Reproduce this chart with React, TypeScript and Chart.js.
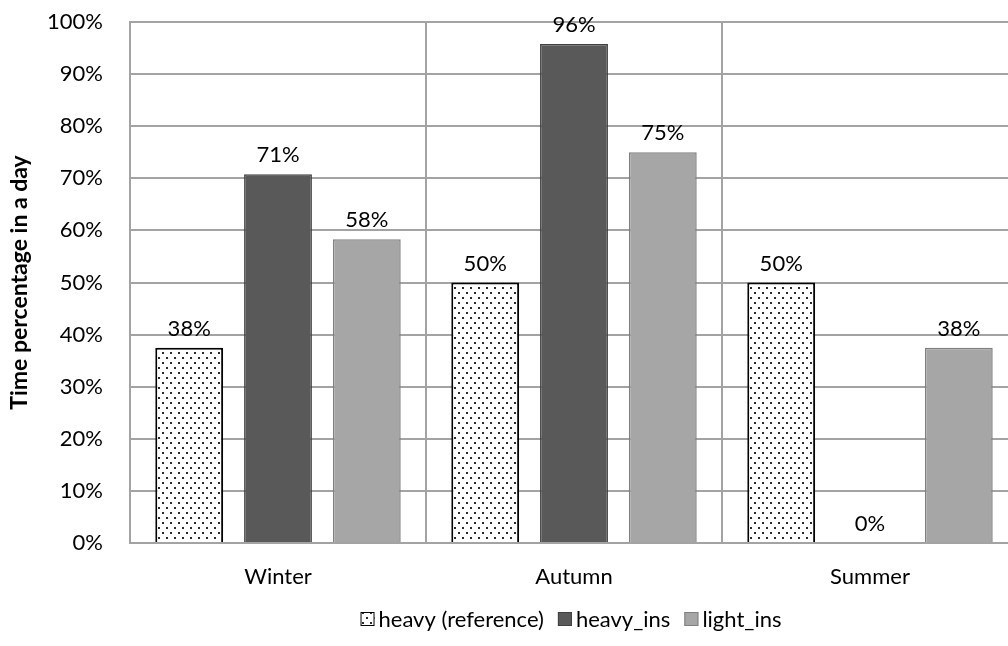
import React, { useEffect, useRef } from "react";
import { Chart, registerables } from "chart.js";

Chart.register(...registerables);

const categories = ["Winter", "Autumn", "Summer"];
const seriesNames = ["heavy (reference)", "heavy_ins", "light_ins"];
const heavyReference = [0.375, 0.5, 0.5];
const heavyIns = [0.708, 0.958, 0];
const lightIns = [0.583, 0.75, 0.375];
const yAxisTitle = "Time percentage in a day";

const FONT = "Lato";
const pct = (v: number) => Math.round(v * 100) + "%";

function makeDotPattern(ctx: CanvasRenderingContext2D) {
  const c = document.createElement("canvas");
  c.width = 8;
  c.height = 10;
  const g = c.getContext("2d")!;
  g.fillStyle = "#ffffff";
  g.fillRect(0, 0, 8, 10);
  g.fillStyle = "#2a2a2a";
  g.fillRect(2, 2, 2, 2);
  g.fillRect(6, 7, 2, 2);
  return ctx.createPattern(c, "repeat")!;
}

const dataLabelPlugin = {
  id: "dataLabels",
  afterDatasetsDraw(chart: any) {
    const ctx = chart.ctx;
    ctx.save();
    ctx.font = `22px ${FONT}`;
    ctx.fillStyle = "#000";
    ctx.textAlign = "center";
    ctx.textBaseline = "alphabetic";
    chart.data.datasets.forEach((ds: any, i: number) => {
      const meta = chart.getDatasetMeta(i);
      meta.data.forEach((el: any, j: number) => {
        ctx.fillText(pct(ds.data[j]), el.x, el.y - 12);
      });
    });
    ctx.restore();
  },
};

const legendPlugin = {
  id: "customLegend",
  afterDraw(chart: any) {
    const ctx = chart.ctx;
    const area = chart.chartArea;
    ctx.save();
    ctx.font = `22px ${FONT}`;
    const box = 14;
    const boxGap = 4;
    const itemGap = 14;
    const items = chart.data.datasets.map((ds: any) => ({
      ds,
      w: box + boxGap + ctx.measureText(ds.label).width,
    }));
    const total = items.reduce((s: number, it: any) => s + it.w, 0) + itemGap * (items.length - 1);
    let x = (area.left + area.right) / 2 - total / 2 - 3;
    const cy = 619;
    items.forEach((it: any) => {
      ctx.fillStyle = it.ds.backgroundColor;
      ctx.fillRect(x, cy - box / 2, box, box);
      ctx.lineWidth = 1;
      ctx.strokeStyle = it.ds.borderColor;
      ctx.strokeRect(x + 0.5, cy - box / 2 + 0.5, box - 1, box - 1);
      ctx.fillStyle = "#000";
      ctx.textAlign = "left";
      ctx.textBaseline = "middle";
      ctx.fillText(it.ds.label, x + box + boxGap, cy + 1);
      x += it.w + itemGap;
    });
    ctx.restore();
  },
};

export default function App() {
  const ref = useRef<HTMLCanvasElement>(null);
  useEffect(() => {
    const canvas = ref.current!;
    const ctx = canvas.getContext("2d")!;
    const dots = makeDotPattern(ctx);
    const gridColor = "#a3a3a3";
    const chart = new Chart(canvas, {
      type: "bar",
      data: {
        labels: categories,
        datasets: [
          {
            label: seriesNames[0],
            data: heavyReference,
            backgroundColor: dots as any,
            borderColor: "#000000",
            borderWidth: 2,
          },
          {
            label: seriesNames[1],
            data: heavyIns,
            backgroundColor: "#595959",
            borderColor: "#404040",
            borderWidth: 1.5,
          },
          {
            label: seriesNames[2],
            data: lightIns,
            backgroundColor: "#a6a6a6",
            borderColor: "#808080",
            borderWidth: 1.5,
          },
        ],
      },
      options: {
        responsive: false,
        animation: false,
        datasets: { bar: { categoryPercentage: 0.9, barPercentage: 0.764 } },
        layout: { padding: { top: 22, right: 12, left: 0, bottom: 0 } },
        plugins: { legend: { display: false }, tooltip: { enabled: false } },
        scales: {
          x: {
            grid: { color: gridColor, lineWidth: 2, drawTicks: false, offset: true },
            border: { color: gridColor, width: 2 },
            ticks: { padding: 21, color: "#000", font: { family: FONT, size: 22 } },
            afterFit: (s: any) => {
              s.height = 103;
            },
          },
          y: {
            min: 0,
            max: 1,
            grid: { color: gridColor, lineWidth: 2, drawTicks: false },
            border: { color: gridColor, width: 2 },
            ticks: {
              stepSize: 0.1,
              padding: 27,
              color: "#000",
              font: { family: FONT, size: 22 },
              callback: (v: any) => pct(Number(v)),
            },
            title: {
              display: true,
              text: yAxisTitle,
              color: "#000",
              font: { family: FONT, size: 23, weight: "bold" },
              padding: { top: 6, bottom: 0 },
            },
            afterFit: (s: any) => {
              s.width = 130;
              s.paddingTop = 0;
              s.paddingBottom = 0;
            },
          },
        },
      },
      plugins: [dataLabelPlugin, legendPlugin],
    });
    return () => chart.destroy();
  }, []);
  return (
    <div style={{ position: "absolute", left: 0, top: 0, width: 1008, height: 646, overflow: "hidden", background: "#fff" }}>
      <canvas ref={ref} width={1030} height={646} style={{ display: "block" }} />
    </div>
  );
}
